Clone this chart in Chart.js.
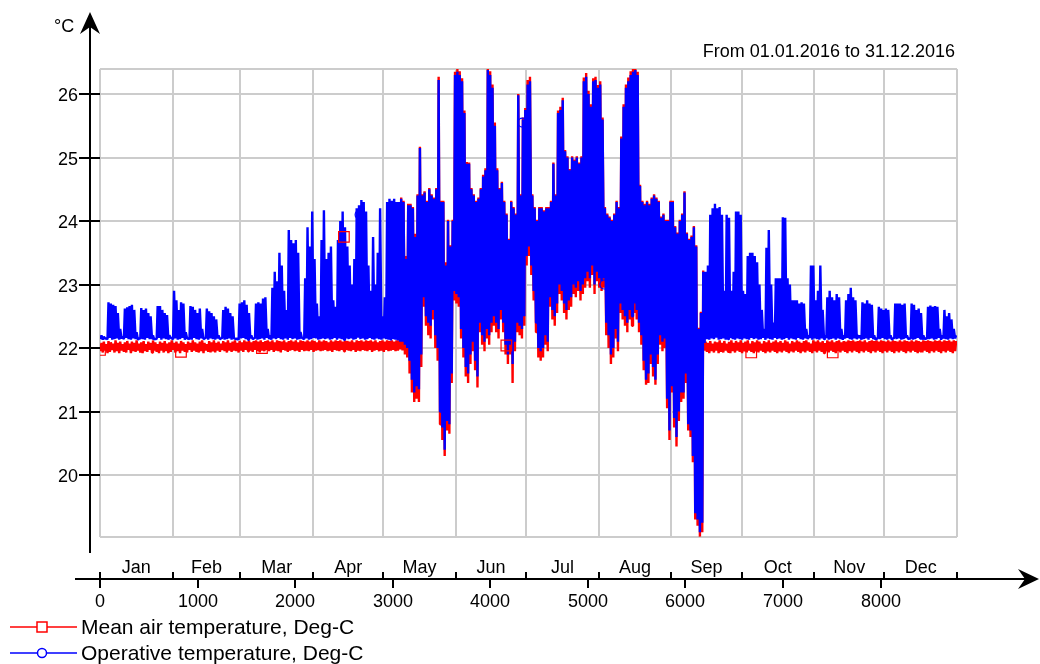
<!DOCTYPE html>
<html>
<head>
<meta charset="utf-8">
<script src="https://cdn.jsdelivr.net/npm/chart.js@4.4.1/dist/chart.umd.min.js"></script>
<style>
    html, body { margin: 0; padding: 0; background: #ffffff; }
    canvas { display: block; }
</style>
</head>
<body>
<canvas id="tempChart" width="1040" height="664"></canvas>
<script>
const titleText = 'From 01.01.2016 to 31.12.2016';
const unitLabel = '°C';
const seriesLabels = ['Mean air temperature, Deg-C', 'Operative temperature, Deg-C'];
const monthLabels = ['Jan', 'Feb', 'Mar', 'Apr', 'May', 'Jun', 'Jul', 'Aug', 'Sep', 'Oct', 'Nov', 'Dec'];
const monthBounds = [0, 744, 1440, 2184, 2904, 3648, 4368, 5112, 5856, 6576, 7320, 8040, 8784];
const hourTicks = [0, 1000, 2000, 3000, 4000, 5000, 6000, 7000, 8000];
const tempTicks = [20, 21, 22, 23, 24, 25, 26];
const tempMin = 19.024;
const tempMax = 26.394;

// daily peaks of operative temperature, 1 Jan .. 31 Dec
const opMax = [22.2, 22.18, 22.15,
    22.72, 22.7, 22.68, 22.66, 22.55, 22.3, 22.18,
    22.62, 22.64, 22.66, 22.68, 22.6, 22.25, 22.15,
    22.63, 22.6, 22.62, 22.55, 22.5, 22.2, 22.15,
    22.66, 22.66, 22.6, 22.55, 22.52, 22.2, 22.15,
    22.9, 22.75, 22.6, 22.72, 22.7, 22.25, 22.15,
    22.66, 22.65, 22.6, 22.55, 22.62, 22.3, 22.15,
    22.62, 22.58, 22.55, 22.5, 22.45, 22.2, 22.15,
    22.6, 22.65, 22.62, 22.55, 22.5, 22.15, 22.15,
    22.7, 22.72, 22.75, 22.68, 22.55, 22.2, 22.15,
    22.7, 22.72, 22.7, 22.78, 22.8, 22.3, 22.2,
    22.95, 23.2, 23.05, 23.5, 23.3, 22.9, 22.6,
    23.86, 23.7, 23.65, 23.7, 23.5, 22.25, 22.15,
    23.1, 23.9, 23.6, 24.15, 23.4, 22.7, 22.5,
    23.7, 24.17, 23.4, 23.5, 23.6, 22.75, 22.65,
    23.7, 24.0, 24.15, 23.9, 23.6, 23.3, 23.0,
    23.4, 24.2, 24.25, 24.33, 24.3, 24.15, 23.3,
    22.9, 23.75, 23.0, 23.5, 24.2, 22.5, 22.8,
    24.3, 24.35, 24.32, 24.35, 24.3, 24.3, 24.35,
    24.3, 23.4, 24.25, 24.25, 24.2, 23.75, 24.4,
    25.15, 24.4, 24.45, 24.3, 24.5, 24.4, 24.35,
    24.5, 26.22, 24.3, 24.3, 23.3, 24.0, 23.6,
    24.0, 26.3, 26.35, 26.3, 26.2, 25.7, 24.9,
    24.9, 24.5, 24.4, 24.3, 24.35, 24.5, 24.7,
    24.8, 26.38, 26.3, 26.1, 25.5, 24.8, 24.5,
    24.6, 24.3, 24.1, 23.7, 24.3, 24.2, 24.1,
    25.98, 24.4, 25.6, 25.75, 26.15, 26.2, 24.4,
    24.2, 24.0, 24.2, 24.2, 24.15, 24.2, 24.2,
    24.3, 24.9, 24.4, 25.7, 25.75, 25.9, 25.1,
    25.0, 24.8, 25.0, 24.95, 25.0, 24.9, 25.0,
    26.2, 26.27, 26.0, 25.8, 26.2, 26.22, 26.1,
    26.15, 25.6, 24.2, 24.1, 24.05, 24.0, 24.1,
    24.3, 24.2, 25.3, 25.8, 26.1, 26.2, 26.3,
    26.35, 26.38, 26.3, 24.55, 24.3, 24.25, 24.3,
    24.25, 24.35, 24.4, 24.35, 24.3, 24.05, 24.1,
    24.0, 24.0, 24.3, 24.3, 23.9, 23.8, 24.0,
    24.1, 24.45, 23.8, 23.7, 23.75, 23.9, 23.6,
    22.3, 22.55, 23.2, 23.2, 23.3, 24.1, 24.2,
    24.27, 24.2, 24.22, 24.1, 22.9, 24.1, 24.05,
    22.9, 23.2, 24.15, 24.15, 24.1, 22.9, 22.85,
    23.45, 23.5, 23.5, 23.45, 23.35, 23.0, 22.6,
    22.3, 23.58, 23.86, 23.0, 22.4, 23.1, 23.1,
    23.1, 24.06, 24.05, 23.1, 23.0, 22.75, 22.75,
    22.75, 22.7, 22.72, 22.7, 22.3, 22.2, 23.3,
    23.3, 22.75, 22.9, 23.3, 22.6, 22.2, 22.8,
    22.9, 22.8, 22.75, 22.85, 22.8, 22.3, 22.2,
    22.75, 22.85, 22.95, 22.8, 22.75, 22.2, 22.2,
    22.72, 22.7, 22.75, 22.7, 22.68, 22.2, 22.15,
    22.65, 22.62, 22.6, 22.62, 22.6, 22.2, 22.15,
    22.7, 22.7, 22.7, 22.68, 22.7, 22.2, 22.15,
    22.7, 22.68, 22.6, 22.62, 22.55, 22.2, 22.15,
    22.65, 22.67, 22.65, 22.66, 22.65, 22.3, 22.2,
    22.6, 22.5, 22.55, 22.45, 22.3, 22.2];

// daily lows of operative temperature
const opMin = [22.14, 22.13, 22.15, 22.14, 22.16, 22.13, 22.14, 22.15,
    22.13, 22.15, 22.14, 22.16, 22.14, 22.13, 22.15, 22.14,
    22.13, 22.15, 22.14, 22.13, 22.16, 22.14, 22.15, 22.13,
    22.14, 22.16, 22.13, 22.15, 22.14, 22.13, 22.16, 22.14,
    22.15, 22.13, 22.14, 22.16, 22.13, 22.15, 22.14, 22.13,
    22.16, 22.14, 22.13, 22.15, 22.14, 22.16, 22.13, 22.15,
    22.14, 22.13, 22.15, 22.14, 22.16, 22.13, 22.14, 22.15,
    22.13, 22.15, 22.14, 22.13, 22.15, 22.16, 22.14, 22.13,
    22.15, 22.14, 22.16, 22.13, 22.14, 22.15, 22.13, 22.16,
    22.14, 22.13, 22.15, 22.14, 22.16, 22.14, 22.13, 22.15,
    22.13, 22.16, 22.14, 22.15, 22.13, 22.14, 22.16, 22.14,
    22.15, 22.13, 22.14, 22.16, 22.15, 22.13, 22.14, 22.15,
    22.14, 22.15, 22.13, 22.14, 22.16, 22.13, 22.15, 22.14,
    22.13, 22.15, 22.14, 22.15, 22.13, 22.14, 22.16, 22.14,
    22.15, 22.13, 22.14, 22.16, 22.14, 22.13, 22.15, 22.14,
    22.13, 22.15, 22.14, 22.13, 22.12, 22.14, 22.13, 22.12,
    22.1, 22.1, 22.05, 22.0,
    21.8, 21.5, 21.3, 21.4, 21.35, 21.9,
    22.8, 22.5, 22.4, 22.35, 22.6, 22.2,
    22.0, 21.0, 20.75, 20.4, 20.85, 20.8, 21.6,
    22.9, 22.85, 22.8,
    22.3, 22.0, 21.7, 21.6, 21.9, 22.1, 21.8, 21.55,
    22.4, 22.2, 22.1, 22.3, 22.2, 22.4,
    22.5, 22.4, 22.3, 22.6, 22.4,
    22.05, 21.9, 22.05, 21.75, 22.1,
    22.4, 22.35, 22.3, 22.5,
    23.45, 23.6, 23.3,
    22.9, 22.4, 22.0, 21.95, 22.0, 22.2, 22.1,
    22.8, 22.6, 22.5, 22.7,
    23.0, 22.9, 22.7, 22.6, 22.75, 22.8,
    23.0, 22.95, 23.05, 22.9, 23.0, 23.1,
    23.2, 23.1, 23.3, 23.0, 23.2, 23.1,
    23.05, 23.1, 22.4,
    22.2, 21.9, 22.0, 22.3, 22.1,
    22.7, 22.6, 22.5, 22.4, 22.6, 22.5, 22.7, 22.6, 22.4,
    22.2, 21.8, 21.5, 21.6, 21.9, 21.7, 21.5, 21.9,
    22.2, 22.1, 22.15,
    21.2, 20.7, 21.4, 20.9, 20.6, 21.0, 21.3,
    21.3, 21.6, 20.8, 20.7,
    20.3, 19.4, 19.3, 19.1, 19.25,
    22.08, 22.14, 22.13, 22.15, 22.14, 22.16, 22.13, 22.14,
    22.15, 22.13, 22.14, 22.16, 22.14, 22.13, 22.15, 22.14,
    22.13, 22.15, 22.14, 22.13, 22.16, 22.14, 22.15, 22.13,
    22.14, 22.16, 22.13, 22.15, 22.14, 22.13, 22.16, 22.14,
    22.15, 22.13, 22.14, 22.16, 22.13, 22.15, 22.14, 22.13,
    22.16, 22.14, 22.13, 22.15, 22.14, 22.16, 22.13, 22.15,
    22.14, 22.13, 22.15, 22.14, 22.16, 22.13, 22.14, 22.15,
    22.13, 22.15, 22.14, 22.13, 22.15, 22.16, 22.14, 22.13,
    22.15, 22.14, 22.16, 22.13, 22.14, 22.15, 22.13, 22.16,
    22.14, 22.13, 22.15, 22.14, 22.16, 22.14, 22.13, 22.15,
    22.13, 22.16, 22.14, 22.15, 22.13, 22.14, 22.16, 22.14,
    22.15, 22.13, 22.14, 22.16, 22.15, 22.13, 22.14, 22.15,
    22.14, 22.15, 22.13, 22.14, 22.16, 22.13, 22.15, 22.14,
    22.13, 22.15, 22.14, 22.15];

// daily peaks of mean air temperature
const airMax = [22.08, 22.10, 22.06, 22.11, 22.09, 22.07, 22.12, 22.08,
    22.10, 22.06, 22.09, 22.11, 22.07, 22.10, 22.08, 22.12,
    22.07, 22.09, 22.11, 22.06, 22.10, 22.08, 22.12, 22.09,
    22.06, 22.10, 22.08, 22.11, 22.07, 22.09, 22.12, 22.08,
    22.10, 22.07, 22.11, 22.09, 22.06, 22.10, 22.08, 22.12,
    22.09, 22.07, 22.10, 22.12, 22.08, 22.06, 22.11, 22.09,
    22.12, 22.08, 22.10, 22.07, 22.11, 22.09, 22.12, 22.08,
    22.10, 22.12, 22.08, 22.11, 22.09, 22.12, 22.10, 22.12,
    22.09, 22.11, 22.12, 22.10, 22.12, 22.08, 22.11, 22.12,
    22.10, 22.12, 22.09, 22.12, 22.11, 22.10, 22.12, 22.09,
    22.11, 22.12, 22.10, 22.12, 22.09, 22.12, 22.11, 22.10,
    22.12, 22.10, 22.12, 22.11, 22.09, 22.12, 22.10, 22.12,
    22.11, 22.09, 22.12, 22.10, 22.12, 22.11, 22.12, 22.10,
    22.12, 22.11, 22.10, 22.12, 22.09, 22.12, 22.11, 22.12,
    22.10, 22.12, 22.11, 22.12, 22.10, 22.12, 22.09, 22.11,
    22.12, 22.10, 22.12, 22.11, 22.12, 22.10, 22.12, 22.12,
    24.37,
    24.32, 23.45, 24.27, 24.27, 24.22, 23.8, 24.42,
    25.17, 24.42, 24.47, 24.32, 24.52, 24.42, 24.37,
    24.52, 26.27, 24.32, 24.32, 23.35, 24.02, 23.62,
    24.02, 26.35, 26.4, 26.36, 26.25, 25.74, 24.93,
    24.92, 24.52, 24.42, 24.32, 24.37, 24.52, 24.73,
    24.83, 26.43, 26.36, 26.15, 25.55, 24.83, 24.52,
    24.62, 24.32, 24.12, 23.72, 24.32, 24.22, 24.12,
    26.0, 24.42, 25.63, 25.78, 26.22, 26.27, 24.42,
    24.22, 24.02, 24.22, 24.22, 24.17, 24.22, 24.22,
    24.32, 24.92, 24.42, 25.74, 25.8, 25.94, 25.12,
    25.02, 24.82, 25.02, 24.97, 25.02, 24.92, 25.02,
    26.26, 26.33, 26.05, 25.84, 26.25, 26.27, 26.14,
    26.2, 25.63, 24.22, 24.12, 24.07, 24.02, 24.12,
    24.32, 24.22, 25.33, 25.84, 26.15, 26.26, 26.36,
    26.4, 26.43, 26.35, 24.57, 24.32, 24.27, 24.32,
    24.27, 24.37, 24.42, 24.37, 24.32, 24.07, 24.12,
    24.02, 24.02, 24.32, 24.32, 23.92, 23.82, 24.02,
    24.12, 24.47, 23.82, 23.72, 23.77, 23.92, 23.62,
    22.32, 22.57, 23.22,
    22.10, 22.08, 22.11, 22.07, 22.10, 22.09, 22.12, 22.08,
    22.11, 22.07, 22.10, 22.12, 22.08, 22.11, 22.09, 22.12,
    22.08, 22.10, 22.12, 22.07, 22.11, 22.09, 22.12, 22.10,
    22.07, 22.11, 22.09, 22.12, 22.08, 22.10, 22.12, 22.09,
    22.11, 22.08, 22.12, 22.10, 22.07, 22.11, 22.09, 22.12,
    22.10, 22.08, 22.11, 22.12, 22.09, 22.07, 22.12, 22.10,
    22.12, 22.09, 22.11, 22.08, 22.12, 22.10, 22.12, 22.09,
    22.11, 22.12, 22.09, 22.11, 22.10, 22.12, 22.11, 22.12,
    22.10, 22.11, 22.12, 22.10, 22.12, 22.09, 22.11, 22.12,
    22.11, 22.12, 22.10, 22.12, 22.11, 22.10, 22.12, 22.10,
    22.12, 22.11, 22.10, 22.12, 22.10, 22.12, 22.11, 22.10,
    22.12, 22.10, 22.12, 22.11, 22.10, 22.12, 22.11, 22.12,
    22.11, 22.10, 22.12, 22.11, 22.12, 22.10, 22.12, 22.11,
    22.12, 22.10, 22.12, 22.11];

// daily lows of mean air temperature
const airMin = [21.95, 21.93, 21.96, 21.92, 21.94, 21.97, 21.93, 21.95,
    21.92, 21.96, 21.94, 21.93, 21.97, 21.92, 21.95, 21.94,
    21.96, 21.93, 21.92, 21.95, 21.94, 21.97, 21.93, 21.96,
    21.94, 21.92, 21.96, 21.93, 21.95, 21.92, 21.94, 21.97,
    21.93, 21.95, 21.92, 21.96, 21.94, 21.93, 21.97, 21.94,
    21.96, 21.94, 21.93, 21.95, 21.92, 21.96, 21.94, 21.93,
    21.95, 21.93, 21.96, 21.94, 21.97, 21.95, 21.93, 21.96,
    21.94, 21.96, 21.95, 21.93, 21.96, 21.94, 21.97, 21.95,
    21.96, 21.94, 21.97, 21.95, 21.93, 21.96, 21.95, 21.97,
    21.95, 21.97, 21.94, 21.96, 21.95, 21.93, 21.97, 21.96,
    21.94, 21.96, 21.97, 21.95, 21.96, 21.94, 21.97, 21.95,
    21.96, 21.95, 21.97, 21.94, 21.96, 21.97, 21.95, 21.96,
    21.97, 21.95, 21.96, 21.94, 21.97, 21.96, 21.95, 21.97,
    21.95, 21.97, 21.96, 21.95, 21.97, 21.94, 21.96, 21.95,
    21.97, 21.96, 21.95, 21.97, 21.94, 21.96, 21.97, 21.95,
    21.96, 21.94, 21.97, 21.95, 21.96, 21.97, 21.95, 21.96,
    21.98, 21.96, 21.9, 21.85,
    21.6, 21.3, 21.15, 21.2, 21.15, 21.7,
    22.65, 22.35, 22.2, 22.15, 22.45, 22.0,
    21.8, 20.8, 20.55, 20.3, 20.7, 20.65, 21.45,
    22.75, 22.7, 22.65,
    22.15, 21.85, 21.55, 21.45, 21.75, 21.95, 21.65, 21.38,
    22.25, 22.05, 21.95, 22.15, 22.05, 22.25,
    22.35, 22.25, 22.15, 22.45, 22.25,
    21.9, 21.75, 21.9, 21.45, 21.95,
    22.25, 22.2, 22.15, 22.35,
    23.3, 23.45, 23.15,
    22.75, 22.25, 21.85, 21.8, 21.85, 22.05, 21.95,
    22.65, 22.45, 22.35, 22.55,
    22.85, 22.75, 22.55, 22.45, 22.6, 22.65,
    22.85, 22.8, 22.9, 22.75, 22.85, 22.95,
    23.05, 22.95, 23.15, 22.85, 23.05, 22.95,
    22.9, 22.95, 22.2,
    22.0, 21.75, 21.85, 22.15, 21.95,
    22.55, 22.45, 22.35, 22.25, 22.45, 22.35, 22.55, 22.45, 22.25,
    22.05, 21.65, 21.42, 21.45, 21.75, 21.55, 21.42, 21.75,
    22.05, 21.95, 22.0,
    21.05, 20.55, 21.3, 20.75, 20.45, 20.85, 21.15,
    21.2, 21.45, 20.7, 20.6,
    20.2, 19.3, 19.2, 19.03, 19.1,
    21.96, 21.94, 21.92, 21.95, 21.93, 21.96, 21.92, 21.94,
    21.93, 21.96, 21.94, 21.92, 21.95, 21.93, 21.96, 21.94,
    21.92, 21.95, 21.93, 21.96, 21.94, 21.92, 21.95, 21.93,
    21.96, 21.94, 21.92, 21.95, 21.93, 21.96, 21.94, 21.92,
    21.95, 21.93, 21.96, 21.94, 21.92, 21.95, 21.93, 21.96,
    21.94, 21.92, 21.95, 21.93, 21.96, 21.94, 21.92, 21.95,
    21.93, 21.96, 21.94, 21.92, 21.95, 21.93, 21.96, 21.94,
    21.92, 21.95, 21.93, 21.96, 21.94, 21.92, 21.95, 21.93,
    21.96, 21.94, 21.92, 21.95, 21.93, 21.96, 21.94, 21.92,
    21.95, 21.93, 21.96, 21.94, 21.92, 21.95, 21.93, 21.96,
    21.94, 21.92, 21.95, 21.93, 21.96, 21.94, 21.92, 21.95,
    21.93, 21.96, 21.94, 21.92, 21.95, 21.93, 21.96, 21.94,
    21.92, 21.95, 21.93, 21.96, 21.94, 21.92, 21.95, 21.93,
    21.96, 21.94, 21.92, 21.95];

// curve markers that are visible in the picture
const airMarkHours = [0, 830, 1660, 2500, 4165, 6675, 7510];
const airMarkValues = [21.97, 21.94, 22.0, 23.75, 22.04, 21.93, 21.93];
const opMarkHours = [2661, 4330, 5170];
const opMarkValues = [24.1, 25.55, 23.0];

function dailyPoints(lows, highs) {
    var pts = [];
    for (var d = 0; d < lows.length; d++) {
        pts.push({x: d * 24 + 5, y: lows[d]});
        pts.push({x: d * 24 + 15, y: highs[d]});
    }
    return pts;
}

function markPoints(hours, values) {
    return hours.map(function(h, i) { return {x: h, y: values[i]}; });
}

const RED = '#ff0000';
const BLUE = '#0000ff';
const FONT = "'Liberation Sans', Arial, sans-serif";

function arrowHead(ctx, pts) {
    ctx.beginPath();
    ctx.moveTo(pts[0][0], pts[0][1]);
    for (var i = 1; i < pts.length; i++) ctx.lineTo(pts[i][0], pts[i][1]);
    ctx.closePath();
    ctx.fill();
}

const frame = {
    id: 'frame',
    afterDraw: function(chart) {
        var ctx = chart.ctx;
        var xs = chart.scales.x;
        var ys = chart.scales.y;
        ctx.save();
        ctx.strokeStyle = '#000';
        ctx.fillStyle = '#000';
        ctx.lineWidth = 2;

        // y axis with arrow
        ctx.beginPath();
        ctx.moveTo(90, 20);
        ctx.lineTo(90, 553);
        ctx.stroke();
        arrowHead(ctx, [[90, 12], [100, 34], [90, 27], [80, 34]]);

        ctx.font = '18px ' + FONT;
        ctx.textAlign = 'right';
        ctx.textBaseline = 'alphabetic';
        tempTicks.forEach(function(v) {
            var py = Math.round(ys.getPixelForValue(v));
            ctx.beginPath();
            ctx.moveTo(79, py);
            ctx.lineTo(100, py);
            ctx.stroke();
            ctx.fillText(String(v), 78, py + 7);
        });

        // x axis with arrow
        var axisY = 579;
        ctx.beginPath();
        ctx.moveTo(75, axisY);
        ctx.lineTo(1030, axisY);
        ctx.stroke();
        arrowHead(ctx, [[1039, axisY], [1018, axisY - 10], [1025, axisY], [1018, axisY + 10]]);

        ctx.textAlign = 'center';
        monthBounds.forEach(function(h) {
            var px = Math.round(xs.getPixelForValue(h));
            ctx.beginPath();
            ctx.moveTo(px, axisY - 7);
            ctx.lineTo(px, axisY);
            ctx.stroke();
        });
        monthLabels.forEach(function(m, i) {
            var px = xs.getPixelForValue((monthBounds[i] + monthBounds[i + 1]) / 2);
            ctx.fillText(m, px, 573);
        });
        hourTicks.forEach(function(h) {
            var px = Math.round(xs.getPixelForValue(h));
            ctx.beginPath();
            ctx.moveTo(px, axisY);
            ctx.lineTo(px, axisY + 9);
            ctx.stroke();
            ctx.fillText(String(h), px, 607);
        });

        ctx.textAlign = 'left';
        ctx.fillText(unitLabel, 54, 32);
        ctx.textAlign = 'right';
        ctx.fillText(titleText, 955, 57);

        // legend
        var rows = [
            {y: 627, color: RED, label: seriesLabels[0], shape: 'rect'},
            {y: 653, color: BLUE, label: seriesLabels[1], shape: 'circle'}
        ];
        ctx.font = '21px ' + FONT;
        ctx.textAlign = 'left';
        rows.forEach(function(r) {
            ctx.strokeStyle = r.color;
            ctx.lineWidth = 1.5;
            ctx.beginPath();
            ctx.moveTo(10, r.y);
            ctx.lineTo(77, r.y);
            ctx.stroke();
            ctx.fillStyle = '#ffffff';
            ctx.beginPath();
            if (r.shape === 'rect') {
                ctx.rect(37, r.y - 5, 10, 10);
            } else {
                ctx.arc(42, r.y, 4.5, 0, Math.PI * 2);
            }
            ctx.fill();
            ctx.stroke();
            ctx.fillStyle = '#000';
            ctx.fillText(r.label, 81, r.y + 7);
        });
        ctx.restore();
    }
};

new Chart(document.getElementById('tempChart'), {
    type: 'line',
    data: {
        datasets: [
            {
                label: seriesLabels[0] + ' markers',
                data: markPoints(airMarkHours, airMarkValues),
                showLine: false,
                borderColor: RED,
                backgroundColor: 'transparent',
                pointStyle: 'rect',
                pointRadius: 7.5,
                pointBorderWidth: 1.2
            },
            {
                label: seriesLabels[1] + ' markers',
                data: markPoints(opMarkHours, opMarkValues),
                showLine: false,
                borderColor: BLUE,
                backgroundColor: 'transparent',
                pointStyle: 'circle',
                pointRadius: 4.5,
                pointBorderWidth: 1.2
            },
            {
                label: seriesLabels[1],
                data: dailyPoints(opMin, opMax),
                borderColor: BLUE,
                borderWidth: 2.4,
                borderJoinStyle: 'bevel',
                pointRadius: 0,
                tension: 0
            },
            {
                label: seriesLabels[0],
                data: dailyPoints(airMin, airMax),
                borderColor: RED,
                borderWidth: 2.4,
                borderJoinStyle: 'bevel',
                pointRadius: 0,
                tension: 0
            }
        ]
    },
    options: {
        responsive: false,
        animation: false,
        devicePixelRatio: 1,
        layout: {
            padding: {left: 100, top: 69, right: 83, bottom: 127}
        },
        plugins: {
            legend: {display: false},
            tooltip: {enabled: false}
        },
        scales: {
            x: {
                type: 'linear',
                min: 0,
                max: 8784,
                afterBuildTicks: function(scale) {
                    scale.ticks = monthBounds.map(function(v) { return {value: v}; });
                },
                afterFit: function(scale) { scale.height = 0; },
                ticks: {display: false},
                border: {display: false},
                grid: {color: '#cccccc', lineWidth: 2, drawTicks: false}
            },
            y: {
                type: 'linear',
                min: tempMin,
                max: tempMax,
                afterBuildTicks: function(scale) {
                    scale.ticks = [tempMin].concat(tempTicks, [tempMax]).map(function(v) { return {value: v}; });
                },
                afterFit: function(scale) { scale.width = 0; },
                ticks: {display: false},
                border: {display: false},
                grid: {color: '#cccccc', lineWidth: 2, drawTicks: false}
            }
        }
    },
    plugins: [frame]
});
</script>
</body>
</html>
